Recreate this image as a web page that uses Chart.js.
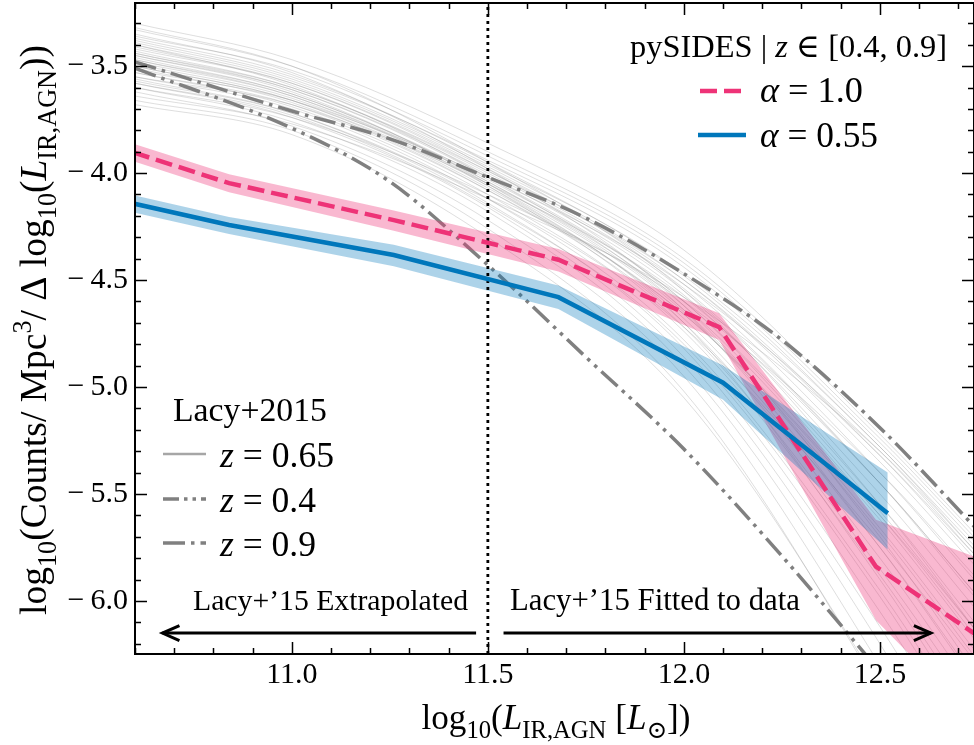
<!DOCTYPE html>
<html><head><meta charset="utf-8">
<script src="https://cdn.jsdelivr.net/npm/chart.js@4.4.1/dist/chart.umd.min.js"></script>
<style>html,body{margin:0;padding:0;background:#fff;} #wrap{width:974px;height:745px;position:relative;}</style>
</head><body><div id="wrap"><canvas id="c" width="974" height="745"></canvas></div>
<script>
// ---------------- data ----------------
const X_MIN = 10.6, X_MAX = 12.74, Y_MIN = -6.248, Y_MAX = -3.205;
const X_TICKS = [11.0, 11.5, 12.0, 12.5];
const Y_TICKS = [-6.0, -5.5, -5.0, -4.5, -4.0, -3.5];

// Lacy+2015 posterior draws (z = 0.65), read at these x
const lacyX = [10.6, 11.0, 11.5, 12.0, 12.5, 12.75];
const lacyDraws = [
  [-3.30,-3.47,-3.86,-4.36,-5.22,-5.70],
  [-3.33,-3.50,-3.90,-4.40,-5.24,-5.72],
  [-3.36,-3.52,-3.92,-4.42,-5.26,-5.74],
  [-3.38,-3.55,-3.94,-4.44,-5.28,-5.76],
  [-3.40,-3.57,-3.97,-4.50,-5.35,-5.85],
  [-3.42,-3.58,-3.98,-4.52,-5.40,-5.92],
  [-3.43,-3.60,-4.00,-4.55,-5.45,-5.98],
  [-3.45,-3.61,-4.01,-4.57,-5.50,-6.05],
  [-3.46,-3.63,-4.03,-4.60,-5.55,-6.12],
  [-3.48,-3.64,-4.04,-4.62,-5.60,-6.18],
  [-3.49,-3.65,-4.05,-4.65,-5.68,-6.28],
  [-3.50,-3.66,-4.06,-4.68,-5.75,-6.38],
  [-3.51,-3.67,-4.08,-4.70,-5.80,-6.45],
  [-3.53,-3.69,-4.10,-4.74,-5.88,-6.55],
  [-3.55,-3.70,-4.12,-4.78,-5.95,-6.65],
  [-3.56,-3.72,-4.14,-4.82,-6.05,-6.78],
  [-3.58,-3.74,-4.16,-4.86,-6.12,-6.88],
  [-3.60,-3.76,-4.18,-4.90,-6.20,-7.00],
  [-3.62,-3.78,-4.22,-4.95,-6.30,-7.10],
  [-3.66,-3.80,-4.26,-5.02,-6.42,-7.25],
  [-3.32,-3.50,-3.95,-4.55,-5.55,-6.15],
  [-3.35,-3.53,-3.98,-4.62,-5.70,-6.35],
  [-3.60,-3.74,-4.10,-4.60,-5.40,-5.90],
  [-3.64,-3.77,-4.12,-4.58,-5.30,-5.78],
  [-3.45,-3.62,-4.05,-4.70,-5.90,-6.60],
  [-3.52,-3.66,-4.02,-4.52,-5.30,-5.80],
  [-3.40,-3.59,-4.02,-4.64,-5.75,-6.40],
  [-3.55,-3.68,-4.05,-4.58,-5.45,-5.98],
  [-3.68,-3.82,-4.30,-5.05,-6.40,-7.20],
  [-3.44,-3.60,-3.99,-4.50,-5.32,-5.80],
  [-3.37,-3.54,-3.95,-4.48,-5.32,-5.82],
  [-3.41,-3.58,-3.99,-4.54,-5.45,-6.00],
  [-3.44,-3.61,-4.02,-4.60,-5.58,-6.15],
  [-3.47,-3.63,-4.04,-4.64,-5.66,-6.25],
  [-3.50,-3.66,-4.07,-4.66,-5.62,-6.20],
  [-3.53,-3.68,-4.08,-4.66,-5.60,-6.15],
  [-3.57,-3.72,-4.12,-4.72,-5.72,-6.30],
  [-3.39,-3.56,-3.96,-4.47,-5.28,-5.78],
  [-3.47,-3.64,-4.06,-4.72,-5.85,-6.50],
  [-3.58,-3.73,-4.15,-4.80,-5.98,-6.70]
];

// Lacy+2015 z = 0.9 and z = 0.4
const z09X = [10.6, 11.0, 11.25, 11.5, 11.75, 12.0, 12.25, 12.5, 12.75];
const z09Y = [-3.48, -3.71, -3.84, -4.02, -4.21, -4.47, -4.78, -5.19, -5.67];
const z04X = [10.6, 11.0, 11.25, 11.5, 11.75, 12.0, 12.25, 12.5];
const z04Y = [-3.51, -3.79, -4.04, -4.43, -4.86, -5.29, -5.79, -6.33];

// pySIDES alpha = 0.55 (blue)
const blueX  = [10.42, 10.84, 11.26, 11.68, 12.10, 12.52];
const blueY  = [-4.07, -4.243, -4.383, -4.58, -4.98, -5.59];
const blueHi = [-4.03, -4.205, -4.335, -4.525, -4.90, -5.40];
const blueLo = [-4.11, -4.285, -4.435, -4.635, -5.06, -5.76];

// pySIDES alpha = 1.0 (pink)
const pinkX  = [10.42, 10.84, 11.26, 11.68, 12.09, 12.49, 12.94];
const pinkY  = [-3.80, -4.047, -4.22, -4.405, -4.72, -5.84, -6.40];
const pinkHi = [-3.76, -4.005, -4.175, -4.355, -4.655, -5.62, -5.93];
const pinkLo = [-3.84, -4.09, -4.27, -4.46, -4.78, -6.09, -6.93];

const SPLIT_X = 11.5;
const ARROW_Y = -6.15;
const ARROW_LEFT = [11.47, 10.67];
const ARROW_RIGHT = [11.54, 12.63];

// ---------------- helpers ----------------
const pts = (xs, ys) => ys.map((y, i) => ({x: xs[i], y}));
const SERIF = '"Liberation Serif", "DejaVu Serif", serif';
const fontStr = (size, it) => (it ? 'italic ' : '') + size.toFixed(2) + 'px ' + SERIF;
function richWidth(ctx, segs, size) {
  let w = 0;
  for (const s of segs) { ctx.font = fontStr(size * (s.k || 1), s.i); w += ctx.measureText(s.t).width; }
  return w;
}
function drawRich(ctx, segs, x, y, size, align, targetW) {
  if (targetW) size = size * targetW / richWidth(ctx, segs, size);
  const w = richWidth(ctx, segs, size);
  let cx = align === 'center' ? x - w / 2 : align === 'right' ? x - w : x;
  ctx.textBaseline = 'alphabetic'; ctx.textAlign = 'left'; ctx.fillStyle = '#000';
  for (const s of segs) {
    ctx.font = fontStr(size * (s.k || 1), s.i);
    ctx.fillText(s.t, cx, y + (s.dy || 0) * size);
    cx += ctx.measureText(s.t).width;
  }
}
const SUB = {k: 0.7, dy: 0.27}, SUP = {k: 0.7, dy: -0.4};
const sub = t => Object.assign({t}, SUB);
const sup = t => Object.assign({t}, SUP);

const PINK = '#EE3377', BLUE = '#0077BB', GREY = '#808080';
const DASHDOT = [22, 6, 3.5, 6];
const DASHDOTDOT = [22, 6, 3.5, 6, 3.5, 6];

// ---------------- datasets ----------------
const datasets = [];
lacyDraws.forEach(arr => datasets.push({
  data: pts(lacyX, arr), borderColor: 'rgba(135,135,135,0.28)', borderWidth: 1,
  pointRadius: 0, cubicInterpolationMode: 'monotone', fill: false, order: 20
}));
datasets.push({data: pts(z09X, z09Y), borderColor: GREY, borderWidth: 3.5, borderDash: DASHDOT,
  pointRadius: 0, cubicInterpolationMode: 'monotone', fill: false, order: 8});
datasets.push({data: pts(z04X, z04Y), borderColor: GREY, borderWidth: 3.5, borderDash: DASHDOTDOT,
  pointRadius: 0, cubicInterpolationMode: 'monotone', fill: false, order: 7});
datasets.push({data: pts(pinkX, pinkHi), borderWidth: 0, borderColor: 'rgba(0,0,0,0)', pointRadius: 0,
  fill: '+1', backgroundColor: 'rgba(238,51,119,0.35)', order: 5});
datasets.push({data: pts(pinkX, pinkLo), borderWidth: 0, borderColor: 'rgba(0,0,0,0)', pointRadius: 0, fill: false, order: 5});
datasets.push({data: pts(blueX, blueHi), borderWidth: 0, borderColor: 'rgba(0,0,0,0)', pointRadius: 0,
  fill: '+1', backgroundColor: 'rgba(0,119,187,0.32)', order: 4});
datasets.push({data: pts(blueX, blueLo), borderWidth: 0, borderColor: 'rgba(0,0,0,0)', pointRadius: 0, fill: false, order: 4});
datasets.push({data: [{x: SPLIT_X, y: Y_MIN}, {x: SPLIT_X, y: Y_MAX}], borderColor: '#000', borderWidth: 2.8,
  borderDash: [3, 4], borderCapStyle: 'butt', pointRadius: 0, fill: false, order: 3});
datasets.push({data: pts(pinkX, pinkY), borderColor: PINK, borderWidth: 4.5, borderDash: [17, 7],
  pointRadius: 0, fill: false, order: 1});
datasets.push({data: pts(blueX, blueY), borderColor: BLUE, borderWidth: 4.5,
  pointRadius: 0, fill: false, order: 0});

// ---------------- decorations plugin ----------------
const deco = {
  id: 'deco',
  afterDraw(chart) {
    const ctx = chart.ctx, a = chart.chartArea;
    const xs = chart.scales.x, ys = chart.scales.y;
    ctx.save();
    // frame
    ctx.strokeStyle = '#000'; ctx.lineWidth = 2;
    ctx.strokeRect(a.left, a.top, a.right - a.left, a.bottom - a.top);
    // ticks
    ctx.lineWidth = 1.5; ctx.beginPath();
    for (let i = Math.ceil(X_MIN * 10); i <= Math.floor(X_MAX * 10); i++) {
      const v = i / 10, px = Math.round(xs.getPixelForValue(v)) + 0.5;
      const len = (i % 5 === 0) ? 12 : 6;
      ctx.moveTo(px, a.bottom); ctx.lineTo(px, a.bottom - len);
      ctx.moveTo(px, a.top); ctx.lineTo(px, a.top + len);
    }
    for (let i = Math.ceil(Y_MIN * 10); i <= Math.floor(Y_MAX * 10); i++) {
      const v = i / 10, py = Math.round(ys.getPixelForValue(v)) + 0.5;
      const len = (i % 5 === 0) ? 12 : 6;
      ctx.moveTo(a.left, py); ctx.lineTo(a.left + len, py);
      ctx.moveTo(a.right, py); ctx.lineTo(a.right - len, py);
    }
    ctx.stroke();

    // arrows
    const ay = ys.getPixelForValue(ARROW_Y);
    function arrow(x0v, x1v) {
      const x0 = xs.getPixelForValue(x0v), x1 = xs.getPixelForValue(x1v);
      const dir = Math.sign(x1 - x0);
      ctx.strokeStyle = '#000'; ctx.lineWidth = 3; ctx.setLineDash([]);
      ctx.beginPath(); ctx.moveTo(x0, ay); ctx.lineTo(x1, ay); ctx.stroke();
      ctx.beginPath(); ctx.moveTo(x1 - dir * 17, ay - 7.5); ctx.lineTo(x1, ay); ctx.lineTo(x1 - dir * 17, ay + 7.5); ctx.stroke();
    }
    arrow(ARROW_LEFT[0], ARROW_LEFT[1]);
    arrow(ARROW_RIGHT[0], ARROW_RIGHT[1]);
    drawRich(ctx, [{t: 'Lacy+\u201915 Extrapolated'}], 193, 610, 26, 'left', 275);
    drawRich(ctx, [{t: 'Lacy+\u201915 Fitted to data'}], 510, 610, 26, 'left', 290);

    // legend 1 (pySIDES)
    drawRich(ctx, [{t: 'pySIDES | '}, {t: 'z', i: true}, {t: ' \u2208 [0.4, 0.9]'}], 947, 57, 30, 'right', 317);
    ctx.lineWidth = 4.5; ctx.strokeStyle = PINK; ctx.setLineDash([17, 7]);
    ctx.beginPath(); ctx.moveTo(700, 91); ctx.lineTo(744, 91); ctx.stroke();
    ctx.strokeStyle = BLUE; ctx.setLineDash([]);
    ctx.beginPath(); ctx.moveTo(698, 135); ctx.lineTo(746, 135); ctx.stroke();
    drawRich(ctx, [{t: '\u03b1', i: true}, {t: ' = 1.0'}], 760, 102, 30, 'left', 103);
    drawRich(ctx, [{t: '\u03b1', i: true}, {t: ' = 0.55'}], 760, 147, 30, 'left', 118);

    // legend 2 (Lacy+2015)
    drawRich(ctx, [{t: 'Lacy+2015'}], 173, 421, 30, 'left', 154);
    ctx.lineWidth = 2.5; ctx.strokeStyle = '#a6a6a6'; ctx.setLineDash([]);
    ctx.beginPath(); ctx.moveTo(163, 454); ctx.lineTo(206, 454); ctx.stroke();
    ctx.lineWidth = 3.5; ctx.strokeStyle = GREY;
    ctx.setLineDash([16, 5, 3.5, 5, 3.5, 5]);
    ctx.beginPath(); ctx.moveTo(163, 499); ctx.lineTo(206, 499); ctx.stroke();
    ctx.setLineDash([22, 6, 3.5, 6]);
    ctx.beginPath(); ctx.moveTo(163, 543); ctx.lineTo(206, 543); ctx.stroke();
    ctx.setLineDash([]);
    drawRich(ctx, [{t: 'z', i: true}, {t: ' = 0.65'}], 220, 467, 30, 'left', 114);
    drawRich(ctx, [{t: 'z', i: true}, {t: ' = 0.4'}], 220, 512, 30, 'left', 96);
    drawRich(ctx, [{t: 'z', i: true}, {t: ' = 0.9'}], 220, 556, 30, 'left', 96);

    // axis labels
    drawRich(ctx, [{t: 'log'}, sub('10'), {t: '('}, {t: 'L', i: true}, sub('IR,AGN'), {t: ' [' }, {t: 'L', i: true}, sub('\u2299'), {t: '])'}],
      556, 729, 30, 'center', 269);
    ctx.save();
    ctx.translate(46, 330); ctx.rotate(-Math.PI / 2);
    drawRich(ctx, [{t: 'log'}, sub('10'), {t: '(Counts/ Mpc'}, sup('3'), {t: '/ \u0394 log'}, sub('10'), {t: '('}, {t: 'L', i: true}, sub('IR,AGN'), {t: '))'}],
      0, 0, 30, 'center', 570);
    ctx.restore();
    ctx.restore();
  }
};

const zeroPad = s => { s.paddingTop = 0; s.paddingBottom = 0; s.paddingLeft = 0; s.paddingRight = 0; };
const TICK_FONT = {family: SERIF, size: 30};

new Chart(document.getElementById('c'), {
  type: 'line',
  data: {datasets},
  options: {
    responsive: false, animation: false, events: [],
    layout: {padding: {top: 3, right: 0, left: 0, bottom: 0}},
    plugins: {legend: {display: false}, tooltip: {enabled: false}},
    scales: {
      x: {
        type: 'linear', min: X_MIN, max: X_MAX,
        grid: {display: false, drawTicks: false}, border: {display: false},
        afterBuildTicks: s => { s.ticks = X_TICKS.map(v => ({value: v})); },
        afterFit: s => { s.height = 91; zeroPad(s); },
        ticks: {padding: 3, color: '#000', font: TICK_FONT,
          callback: v => v.toFixed(1), maxRotation: 0, autoSkip: false}
      },
      y: {
        type: 'linear', min: Y_MIN, max: Y_MAX,
        grid: {display: false, drawTicks: false}, border: {display: false},
        afterBuildTicks: s => { s.ticks = Y_TICKS.map(v => ({value: v})); },
        afterFit: s => { s.width = 135; zeroPad(s); },
        ticks: {padding: 7, color: '#000', font: TICK_FONT,
          callback: v => '\u2212\u2009' + Math.abs(v).toFixed(1), autoSkip: false}
      }
    }
  },
  plugins: [deco]
});
</script>
</body></html>
